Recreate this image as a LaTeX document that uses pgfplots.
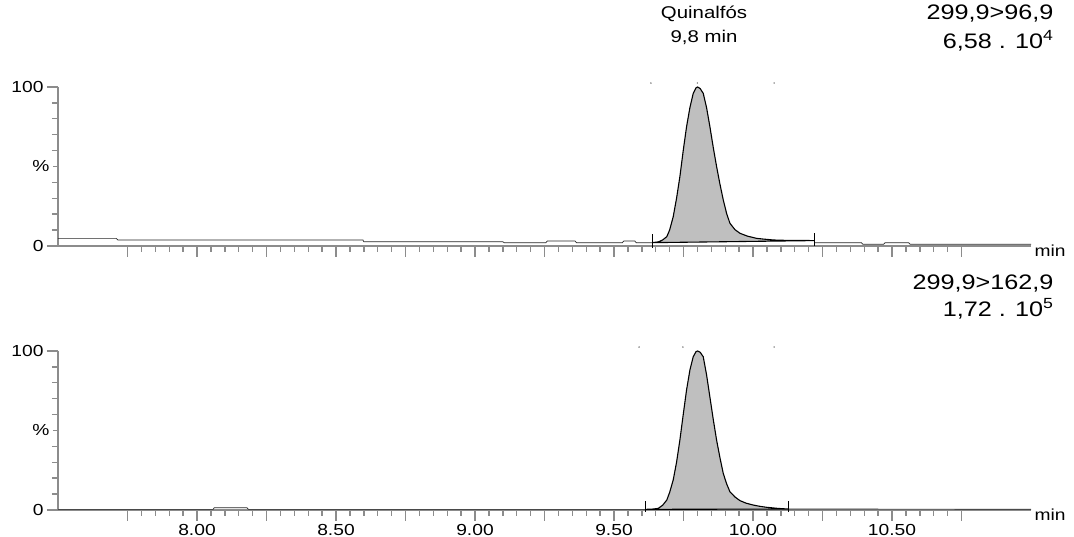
\documentclass[border=0pt]{standalone}
\usepackage{fontspec}
\setmainfont{Liberation Sans}[FakeStretch=1.2]
\usepackage{pgfplots}
\pgfplotsset{compat=1.18}
\begin{document}
\begin{tikzpicture}[x=1pt,y=1pt]
\useasboundingbox (0,0) rectangle (1074,537);
\pgfplotsset{chrom/.style={
  scale only axis, width=973pt, height=159pt,
  xmin=7.5, xmax=11.0, ymin=0, ymax=100,
  axis lines=left,
  axis line style={draw=none},
  clip=false,
  xtick={7.75,8,8.25,8.5,8.75,9,9.25,9.5,9.75,10,10.25,10.5,10.75},
  minor x tick num=4,
  ytick={0,100}, yticklabels={0,100},
  minor ytick={10,20,30,40,60,70,80,90},
  extra y ticks={50}, extra y tick labels={\%},
  extra y tick style={major tick length=5pt},
  tick align=outside, major tick length=11pt, minor tick length=6pt,
  major tick style={draw=black!45, line width=1.4pt},
  minor tick style={draw=black!45, line width=1.4pt},
  tick label style={font=\fontsize{16}{18}\selectfont, black},
}}
% ---------------- top trace ----------------
\begin{axis}[chrom, at={(58pt,291pt)}, anchor=south west, xticklabels={}]
\draw[black!45, line width=2.8pt] (axis cs:7.5,100) -- (axis cs:7.5,0) -- (axis cs:11.0,0);
\addplot[fill=gray!50, draw=black, line width=1.1pt] coordinates {
(9.637,2.1)(9.66,2.6)(9.675,3.8)(9.69,5.9)(9.70,10)(9.713,18.4)(9.725,30)(9.737,43.6)
(9.749,60)(9.761,75)(9.773,87)(9.785,96)(9.795,99.5)(9.801,100)(9.81,99)(9.821,96)
(9.833,87)(9.845,75)(9.857,62)(9.869,50)(9.881,39)(9.893,29)(9.905,20.5)(9.917,14.3)
(9.935,10.3)(9.953,8)(9.98,6.2)(10.013,4.8)(10.04,4.3)(10.072,3.8)(10.10,3.6)
(10.15,3.5)(10.22,3.4)} -- cycle;
\addplot[black!85, line width=0.7pt] coordinates {
(7.50,4.8)(7.71,4.8)(7.715,3.8)(8.597,3.8)(8.60,2.7)(9.10,2.7)(9.105,2.1)(9.255,2.1)
(9.26,3.1)(9.36,3.1)(9.365,2.1)(9.53,2.1)(9.535,3.1)(9.575,3.1)(9.58,2.1)(9.637,2.1)};
\addplot[black!85, line width=0.7pt] coordinates {
(10.22,2.1)(10.39,2.1)(10.395,1.1)(10.47,1.1)(10.475,2.1)(10.56,2.1)(10.565,1.1)(11.0,1.1)};
\addplot[black, line width=1pt] coordinates {(9.637,-1)(9.637,7.5)};
\addplot[black, line width=1pt] coordinates {(10.22,0)(10.22,8.4)};
\addplot[only marks, mark=*, mark size=0.5pt, gray] coordinates {(9.633,102.5)(9.80,102.5)(10.076,102.5)};
\node[anchor=west, font=\fontsize{16}{18}\selectfont] at (axis cs:11.0,-3) {min};
\end{axis}
% ---------------- bottom trace ----------------
\begin{axis}[chrom, at={(58pt,27pt)}, anchor=south west,
  xticklabels={,8.00,,8.50,,9.00,,9.50,,10.00,,10.50,}]
\draw[black!45, line width=2.8pt] (axis cs:7.5,100) -- (axis cs:7.5,0) -- (axis cs:11.0,0);
\addplot[fill=gray!50, draw=black, line width=1.1pt] coordinates {
(9.614,0.4)(9.64,0.6)(9.659,1.0)(9.675,3)(9.69,6.3)(9.70,11)(9.713,18.9)(9.725,30)
(9.737,44)(9.749,60)(9.761,75.5)(9.773,88)(9.785,96.4)(9.795,99.6)(9.801,100)(9.81,99.2)
(9.821,96.4)(9.833,85)(9.845,71)(9.857,57)(9.869,44)(9.881,33)(9.893,23)(9.905,16.5)
(9.917,11.5)(9.935,8.2)(9.953,5.9)(9.975,4.3)(10.001,3.1)(10.025,2.3)(10.049,1.7)
(10.09,1.0)(10.127,0.6)} -- cycle;
\addplot[black!85, line width=0.7pt] coordinates {
(7.5,0.4)(8.058,0.4)(8.062,1.4)(8.18,1.4)(8.185,0.4)(9.614,0.4)};
\addplot[black!85, line width=0.7pt] coordinates {(10.127,0.6)(11.0,0.5)};
\addplot[black, line width=1pt] coordinates {(9.614,-1)(9.614,5.7)};
\addplot[black, line width=1pt] coordinates {(10.127,-1)(10.127,5.7)};
\addplot[only marks, mark=*, mark size=0.5pt, gray] coordinates {(9.59,102.5)(9.748,102.5)(10.076,102.5)};
\node[anchor=west, font=\fontsize{16}{18}\selectfont] at (axis cs:11.0,-3) {min};
\end{axis}
% ---------------- labels ----------------
\node[font=\fontsize{17}{19}\selectfont] at (704,523) {Quinalfós};
\node[font=\fontsize{17}{19}\selectfont] at (704,500) {9,8 min};
\node[anchor=east, font=\fontsize{21}{23}\selectfont] at (1057,523) {299,9>96,9};
\node[anchor=east, font=\fontsize{21}{23}\selectfont] at (1057,496) {6,58 . 10\textsuperscript{4}};
\node[anchor=east, font=\fontsize{21}{23}\selectfont] at (1057,253) {299,9>162,9};
\node[anchor=east, font=\fontsize{21}{23}\selectfont] at (1057,228) {1,72 . 10\textsuperscript{5}};
\end{tikzpicture}
\end{document}
